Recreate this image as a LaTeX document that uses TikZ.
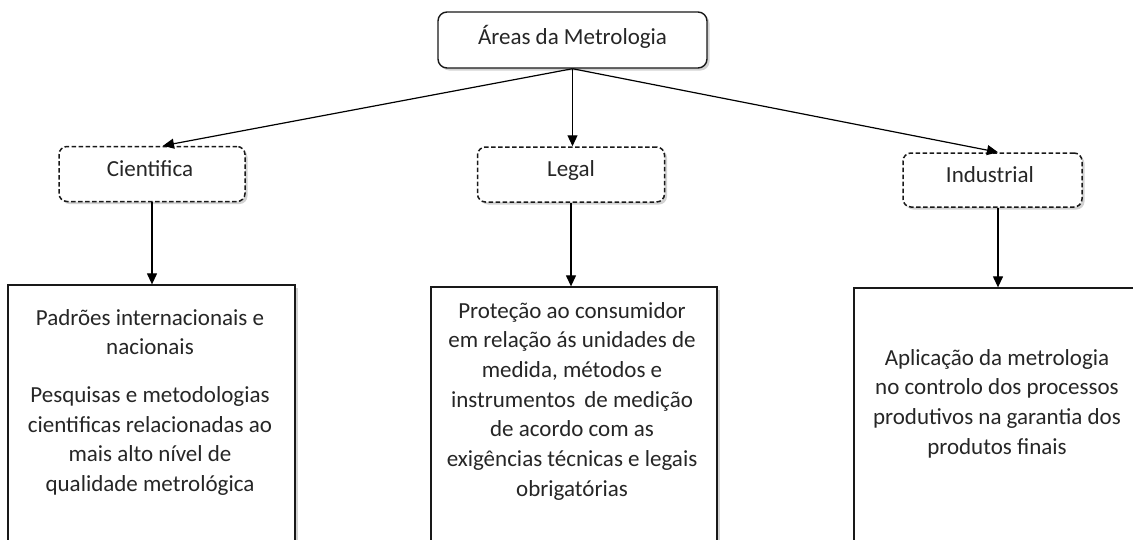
\documentclass[tikz,border=0pt]{standalone}
\usepackage{fontspec}
\setmainfont{Carlito}
\usetikzlibrary{arrows.meta,shadows}
\begin{document}
\begin{tikzpicture}[x=1pt,y=-1pt,
  shad/.style={drop shadow={opacity=0.35,shadow xshift=2.5pt,shadow yshift=-2.5pt}},
  topbox/.style={draw=black!90, line width=1.4pt, rounded corners=9pt, fill=white, shad,
    minimum width=269pt, minimum height=56pt, inner sep=0pt},
  areabox/.style={draw=black!90, line width=1.5pt, dash pattern=on 4.5pt off 2.5pt, rounded corners=8pt,
    fill=white, shad, minimum height=55pt, inner sep=0pt},
  descbox/.style={draw=black!90, line width=1.3pt, fill=white, shad,
    minimum width=286pt, minimum height=300pt, inner sep=0pt},
  lbl/.style={text=black!85, font=\fontsize{23}{29.7}\selectfont},
  desc/.style={text=black!85, font=\fontsize{23}{29.7}\selectfont, align=center, inner sep=0pt, anchor=north},
  arr/.style={draw=black, line width=1.2pt, -{Triangle[length=11pt,width=10pt]}}
]
\useasboundingbox (0,0) rectangle (1133,539);
\clip (0,0) rectangle (1133,539);
\fill[white] (0,0) rectangle (1133,539);

% top node
\node[topbox] (top) at (572.5,40) {};
\node[lbl] (toptxt) at (572.5,37) {Áreas da Metrologia};

% area nodes
\node[areabox, minimum width=186pt] (cien) at (152,174) {};
\node[lbl] (cientxt) at (150,169) {Cientifica};
\node[areabox, minimum width=187pt] (legal) at (571,174.5) {};
\node[lbl] (legaltxt) at (571,170) {Legal};
\node[areabox, minimum width=179pt, minimum height=54pt] (ind) at (992.5,180) {};
\node[lbl] (indtxt) at (990,175) {Industrial};

% description boxes
\node[descbox, minimum width=287pt] (cbox) at (151.5,435) {};
\node[descbox] (lbox) at (574,437) {};
\node[descbox] (ibox) at (997,438) {};

\node[desc] (ctext) at (150,309) {Padrões internacionais e\\ nacionais\\[18pt] Pesquisas e metodologias\\ cientificas relacionadas ao\\ mais alto nível de\\ qualidade metrológica};
\node[desc] (ltext) at (572,302) {Proteção ao consumidor\\ em relação ás unidades de\\ medida, métodos e\\ instrumentos\, de medição\\ de acordo com as\\ exigências técnicas e legais\\ obrigatórias};
\node[desc] (itext) at (997,349) {Aplicação da metrologia\\ no controlo dos processos\\ produtivos na garantia dos\\ produtos finais};

% connectors
\draw[arr] (top.south) -- ([xshift=11pt]cien.north);
\draw[arr] (top.south) -- (top.south |- legal.north);
\draw[arr] (top.south) -- ([xshift=5.5pt]ind.north);

\draw[arr] (cien.south) -- (cien.south |- cbox.north);
\draw[arr] (legal.south) -- (legal.south |- lbox.north);
\draw[arr] ([xshift=5.5pt]ind.south) -- ([xshift=5.5pt]ind.south |- ibox.north);
\end{tikzpicture}
\end{document}
